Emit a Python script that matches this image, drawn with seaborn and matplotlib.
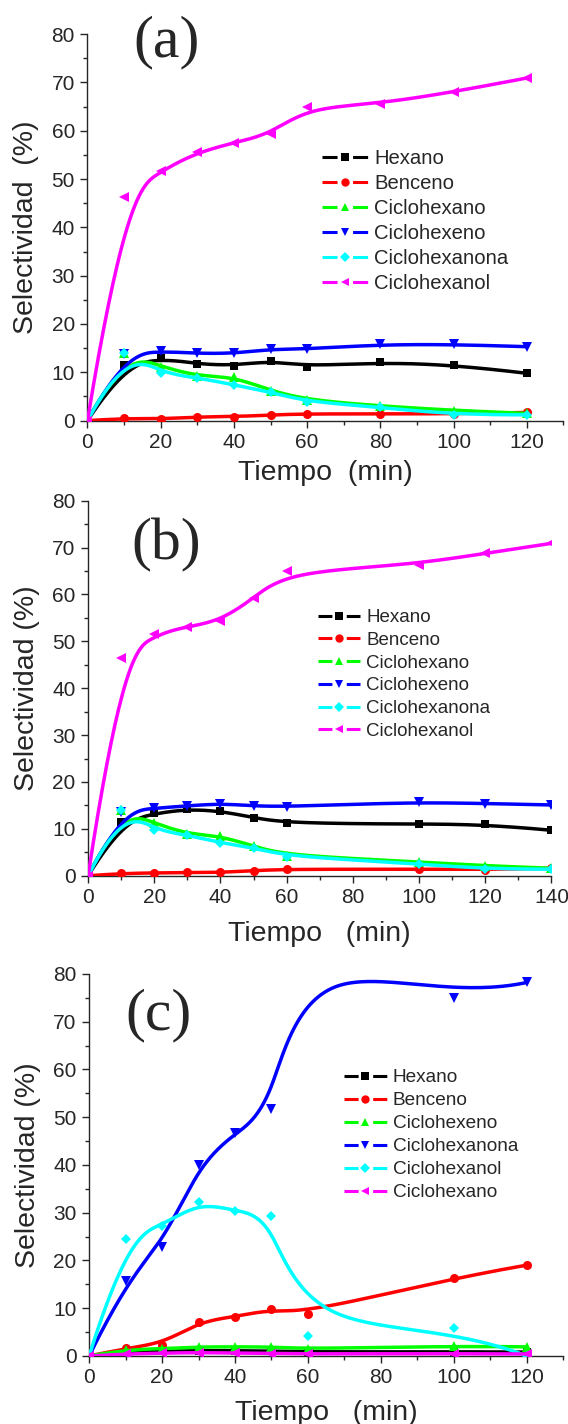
import numpy as np
import matplotlib
matplotlib.use('Agg')
import matplotlib.pyplot as plt
import seaborn as sns
from matplotlib.lines import Line2D
from matplotlib.ticker import MultipleLocator

# --- datos ---
nombres_ab = ['Hexano', 'Benceno', 'Ciclohexano', 'Ciclohexeno', 'Ciclohexanona', 'Ciclohexanol']
nombres_c = ['Hexano', 'Benceno', 'Ciclohexeno', 'Ciclohexanona', 'Ciclohexanol', 'Ciclohexano']

tiempo_a = [0, 10, 20, 30, 40, 50, 60, 80, 100, 120]
a_hexano = [0, 11.6, 13.0, 11.7, 11.4, 12.4, 11.2, 12.1, 11.6, 9.8]
a_benceno = [0, 0.5, 0.3, 0.8, 0.8, 1.2, 1.4, 1.4, 1.4, 1.7]
a_ciclohexano = [0, 13.9, 11.2, 9.2, 9.1, 6.2, 4.3, 3.0, 2.1, 1.5]
a_ciclohexeno = [0, 13.8, 14.4, 13.9, 13.9, 14.8, 14.8, 15.8, 15.8, 15.3]
a_ciclohexanona = [0, 14.1, 9.8, 8.9, 7.4, 5.9, 3.9, 2.8, 1.2, 1.2]
a_ciclohexanol = [0, 46.3, 51.7, 55.5, 57.5, 59.3, 64.8, 65.5, 68.0, 70.9]

tiempo_b = [0, 10, 20, 30, 40, 50, 60, 100, 120, 140]
b_hexano = [0, 11.5, 13.3, 14.2, 13.8, 12.4, 11.2, 11.0, 11.0, 9.7]
b_benceno = [0, 0.5, 0.6, 0.7, 0.7, 1.1, 1.4, 1.4, 1.3, 1.6]
b_ciclohexano = [0, 14.0, 11.2, 8.9, 8.5, 6.3, 4.3, 3.0, 2.1, 1.6]
b_ciclohexeno = [0, 13.7, 14.4, 14.9, 15.4, 14.9, 14.7, 15.8, 15.4, 15.1]
b_ciclohexanona = [0, 14.0, 9.7, 8.7, 7.0, 6.0, 4.1, 2.6, 1.4, 1.4]
b_ciclohexanol = [0, 46.4, 51.5, 53.1, 54.4, 59.2, 64.9, 66.3, 68.8, 70.9]

tiempo_c = [0, 10, 20, 30, 40, 50, 60, 100, 120]
c_hexano = [0, 0.8, 1.0, 1.1, 1.1, 1.0, 0.8, 0.9, 0.8]
c_benceno = [0, 1.6, 2.3, 7.2, 8.2, 9.8, 8.8, 16.4, 19.0]
c_ciclohexeno = [0, 1.3, 1.5, 1.9, 1.9, 1.9, 1.4, 2.1, 1.9]
c_ciclohexanona = [0, 15.6, 22.8, 40.0, 46.6, 51.7, np.nan, 74.9, 78.2]
c_ciclohexanona_60 = 86.0  # sin marcador en la figura, solo se ve en la curva
c_ciclohexanol = [0, 24.5, 27.2, 32.2, 30.4, 29.2, 4.2, 5.9, 0]
c_ciclohexano = [0, 0.4, 0.6, 0.7, 0.6, 0.5, 0.4, 0.5, 0.4]

colores = ['#000000', '#FF0000', '#00FF00', '#0000FF', '#00FFFF', '#FF00FF']
marcadores = ['s', 'o', '^', 'v', 'D', '<']
tamanos = [6, 6.5, 6.5, 6.5, 5.5, 6.5]


def bspline(px, py, num=400):
    # curva B-spline cubica (tipo Origin), puntos como puntos de control
    px = np.asarray(px, float)
    py = np.asarray(py, float)
    k = 3
    n = len(px)
    kv = np.concatenate([np.zeros(k), np.arange(n - k + 1), np.full(k, n - k)]).astype(float)
    t = np.linspace(0, n - k, num)
    t[-1] -= 1e-9
    N = np.array([(kv[i] <= t) & (t < kv[i + 1]) for i in range(len(kv) - 1)], float)
    for d in range(1, k + 1):
        Nn = np.zeros((len(kv) - 1 - d, num))
        for i in range(len(kv) - 1 - d):
            a = kv[i + d] - kv[i]
            b = kv[i + d + 1] - kv[i + 1]
            izq = (t - kv[i]) / a * N[i] if a > 0 else 0
            der = (kv[i + d + 1] - t) / b * N[i + 1] if b > 0 else 0
            Nn[i] = izq + der
        N = Nn
    return N.T @ px, N.T @ py


sns.set_style('ticks')
plt.rcParams['font.family'] = ['Liberation Sans', 'DejaVu Sans']
plt.rcParams['xtick.labelsize'] = 15
plt.rcParams['ytick.labelsize'] = 15

fig = plt.figure(figsize=(5.68, 14.24), dpi=100)


def panel(rect, tiempo, series, nombres, xmax, letra, letra_pos, xlabel, ylabel, xpad,
          leg_pos, leg_fs, curvas=None):
    ax = fig.add_axes(rect)
    for i, y in enumerate(series):
        ycurva = curvas[i] if curvas is not None and curvas[i] is not None else y
        cx, cy = bspline(tiempo, ycurva)
        sns.lineplot(x=cx, y=cy, color=colores[i], lw=2.5, ax=ax, sort=False, zorder=2 + i)
        ax.plot(tiempo, y, ls='none', marker=marcadores[i], ms=tamanos[i], color=colores[i],
                mew=0, zorder=2 + i)
    ax.set_xlim(0, xmax)
    ax.set_ylim(0, 80)
    ax.xaxis.set_major_locator(MultipleLocator(20))
    ax.xaxis.set_minor_locator(MultipleLocator(10))
    ax.yaxis.set_major_locator(MultipleLocator(10))
    ax.yaxis.set_minor_locator(MultipleLocator(5))
    ax.tick_params(which='major', direction='out', length=5, width=1, pad=4)
    ax.tick_params(which='minor', direction='out', length=3, width=1)
    sns.despine(ax=ax)
    for s in ['left', 'bottom']:
        ax.spines[s].set_linewidth(1)
    ax.set_xlabel(xlabel, fontsize=20.5, labelpad=xpad)
    ax.set_ylabel(ylabel, fontsize=20.5, labelpad=9)
    fig.text(letra_pos[0] / 568, 1 - letra_pos[1] / 1424, letra, family='Liberation Serif',
             fontsize=43, ha='center', va='center')
    # manija de leyenda: guion - marcador - guion
    largo = 2.25 * leg_fs
    lw = 2.2
    patron = (0, (0.33 * largo / lw, 0.34 * largo / lw))
    handles = [Line2D([], [], color=colores[i], lw=lw, ls=patron, marker=marcadores[i],
                      ms=tamanos[i] - 0.5, mew=0) for i in range(len(nombres))]
    ax.legend(handles, nombres, loc='upper left', bbox_to_anchor=leg_pos, bbox_transform=fig.transFigure,
              frameon=False, fontsize=leg_fs, borderpad=0, borderaxespad=0, handlelength=2.25,
              handletextpad=0.32, labelspacing=0.30)
    return ax


panel([0.154, 0.7046, 0.838, 0.2715], tiempo_a,
      [a_hexano, a_benceno, a_ciclohexano, a_ciclohexeno, a_ciclohexanona, a_ciclohexanol],
      nombres_ab, 130, '(a)', (167, 42), 'Tiempo  (min)', 'Selectividad  (%)', 6,
      (322 / 568, 1 - 149 / 1424), 14.6)

panel([0.1551, 0.385, 0.8158, 0.2634], tiempo_b,
      [b_hexano, b_benceno, b_ciclohexano, b_ciclohexeno, b_ciclohexanona, b_ciclohexanol],
      nombres_ab, 140, '(b)', (166, 545), 'Tiempo   (min)', 'Selectividad (%)', 10,
      (318 / 568, 1 - 609 / 1424), 13.5)

curva_cetona = [c_ciclohexanona_60 if np.isnan(v) else v for v in c_ciclohexanona]
panel([0.157, 0.0478, 0.8345, 0.2683], tiempo_c,
      [c_hexano, c_benceno, c_ciclohexeno, c_ciclohexanona, c_ciclohexanol, c_ciclohexano],
      nombres_c, 130, '(c)', (158, 1015), 'Tiempo   (min)', 'Selectividad (%)', 9,
      (344 / 568, 1 - 1069 / 1424), 13.7, curvas=[None, None, None, curva_cetona, None, None])

fig.savefig('out.png', dpi=100)
